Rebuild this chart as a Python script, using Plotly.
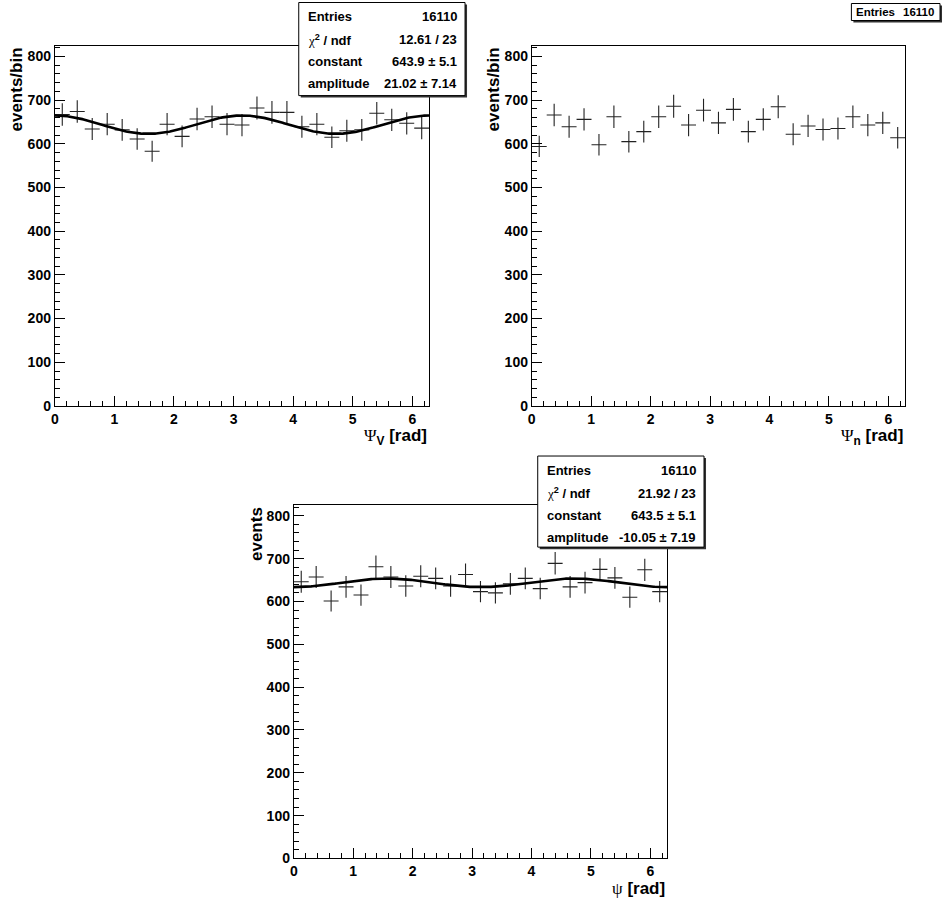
import numpy as np
import plotly.graph_objects as go

W, H = 944, 902

# ---------------- data ----------------
n_bins = 25
x_min, x_max = 0.0, 2 * np.pi
bin_width = (x_max - x_min) / n_bins
bin_centers = [x_min + (k + 0.5) * bin_width for k in range(n_bins)]

counts_psi_v = [667, 674, 634, 645, 632, 611, 583, 645, 617, 657, 662, 645, 643,
                682, 672, 672, 639, 645, 615, 630, 632, 670, 655, 647, 636]
counts_psi_n = [594, 666, 639, 656, 598, 662, 605, 628, 662, 686, 643, 677, 648,
                679, 628, 656, 685, 622, 641, 633, 635, 662, 643, 648, 614]
counts_psi = [646, 657, 601, 634, 615, 681, 657, 636, 659, 654, 636, 663, 623,
              620, 641, 654, 630, 689, 634, 644, 675, 655, 610, 674, 623]

fit_v_constant, fit_v_amplitude = 643.9, 21.02
fit_psi_constant, fit_psi_amplitude = 643.5, -10.05

CHI = "<span style='font-family:Liberation Serif;font-weight:normal'>χ</span><sup>2</sup> / ndf"
stats_v = [("Entries", "16110"), (CHI, "12.61 / 23"),
           ("constant", "643.9 ± 5.1"), ("amplitude", "21.02 ± 7.14")]
stats_n = [("Entries", "16110")]
stats_psi = [("Entries", "16110"), (CHI, "21.92 / 23"),
             ("constant", "643.5 ± 5.1"), ("amplitude", "-10.05 ± 7.19")]

y_range = [0, 825]

# ---------------- helpers (window pixels -> paper) ----------------
Y_FIX = 1 / 0.99   # small vertical correction measured on the rendered page

def px(x):
    return x / W

def py(y):
    return 1 - ((y + 0.5) * Y_FIX) / H

FONT = "Liberation Sans, Arial, sans-serif"
CROSS = "#222222"

fig = go.Figure()

panels = [
    (counts_psi_v, (fit_v_constant, fit_v_amplitude), "", (51, 427, 45, 405)),
    (counts_psi_n, None, "2", (530, 905, 45, 405)),
    (counts_psi, (fit_psi_constant, fit_psi_amplitude), "3", (291, 666, 504, 857)),
]

x_fit = np.linspace(x_min, x_max, 300)

for counts, fit, sfx, box in panels:
    xa = "x" + sfx
    ya = "y" + sfx
    fig.add_trace(go.Scatter(
        x=bin_centers, y=counts, mode="markers", xaxis=xa, yaxis=ya,
        marker=dict(size=2, color="rgba(0,0,0,0)"),
        error_x=dict(type="constant", value=bin_width / 2, width=0, thickness=1.1, color=CROSS),
        error_y=dict(type="data", array=[np.sqrt(c) for c in counts], width=0, thickness=1.1, color=CROSS),
        showlegend=False, hoverinfo="x+y"))
    if fit is not None:
        c, a = fit
        fig.add_trace(go.Scatter(
            x=x_fit, y=c + a * np.cos(2 * x_fit), mode="lines", xaxis=xa, yaxis=ya,
            line=dict(color="black", width=2.6), showlegend=False, hoverinfo="skip"))

axis_base = dict(
    showline=True, linecolor="black", linewidth=1, mirror=True,
    ticks="inside", ticklen=10, tickwidth=1, tickcolor="black",
    showgrid=False, zeroline=False,
    tickfont=dict(family=FONT, size=14, color="black", weight="bold"),
)

layout_axes = {}
for counts, fit, sfx, (x0, x1, top, bottom) in panels:
    layout_axes["xaxis" + sfx] = dict(
        axis_base, domain=[px(x0), px(x1)], range=[x_min, x_max], tick0=0, dtick=1,
        minor=dict(ticks="inside", ticklen=5, dtick=0.2, tick0=0, tickcolor="black", tickwidth=1, showgrid=False),
        anchor="y" + sfx)
    layout_axes["yaxis" + sfx] = dict(
        axis_base, domain=[py(bottom), py(top)], range=y_range, tick0=0, dtick=100,
        minor=dict(ticks="inside", ticklen=5, dtick=20, tick0=0, tickcolor="black", tickwidth=1, showgrid=False),
        anchor="x" + sfx)

fig.update_layout(**layout_axes)

annotations = []
shapes = []

PSI_SPAN = "<span style='font-family:Liberation Serif;font-weight:normal'>%s</span>"

title_font = dict(family=FONT, size=17, color="black", weight="bold")
x_titles = [(PSI_SPAN % "Ψ" + "<sub>V</sub> [rad]", 427, 436),
            (PSI_SPAN % "Ψ" + "<sub>n</sub> [rad]", 905, 436),
            (PSI_SPAN % "ψ" + " [rad]", 666, 887)]
for txt, xr, yc in x_titles:
    annotations.append(dict(text=txt, x=px(xr), y=py(yc), xref="paper", yref="paper",
                            xanchor="right", yanchor="middle", showarrow=False, font=title_font))
y_titles = [("events/bin", 13, 45), ("events/bin", 492, 45), ("events", 253, 504)]
for txt, xc, yt in y_titles:
    annotations.append(dict(text=txt, x=px(xc), y=py(yt), xref="paper", yref="paper",
                            xanchor="center", yanchor="top", textangle=-90, showarrow=False,
                            font=title_font))

stat_font = dict(family=FONT, size=13, color="black", weight="bold")

def stats_box(rows, x0, x1, top, bottom, row_ys, font, pad_l=7, pad_r=6):
    shapes.append(dict(type="rect", xref="paper", yref="paper",
                       x0=px(x0 + 2), x1=px(x1 + 2), y0=py(bottom + 2), y1=py(top + 2),
                       line=dict(width=0), fillcolor="#333333", layer="above"))
    shapes.append(dict(type="rect", xref="paper", yref="paper",
                       x0=px(x0), x1=px(x1), y0=py(bottom), y1=py(top),
                       line=dict(color="black", width=1), fillcolor="white", layer="above"))
    for (label, value), yc in zip(rows, row_ys):
        annotations.append(dict(text=label, x=px(x0 + pad_l), y=py(yc), xref="paper", yref="paper",
                                xanchor="left", yanchor="middle", showarrow=False, font=font))
        annotations.append(dict(text=value, x=px(x1 - pad_r), y=py(yc), xref="paper", yref="paper",
                                xanchor="right", yanchor="middle", showarrow=False, font=font))

stats_box(stats_v, 296, 463, 2, 95, [16, 39, 61, 83], stat_font)
stats_box(stats_n, 851, 940, 3, 20, [11.5], dict(stat_font, size=11.5), pad_l=3, pad_r=4)
stats_box(stats_psi, 536, 703, 455, 546, [469, 492, 514, 536], stat_font)

fig.update_layout(
    width=W, height=H,
    margin=dict(l=0, r=0, t=0, b=0),
    paper_bgcolor="white", plot_bgcolor="white",
    annotations=annotations, shapes=shapes,
    showlegend=False,
)

# remove the default page margin so that the figure fills the 944x902 window exactly
page_fix = ("document.documentElement.style.margin='0';document.body.style.margin='0';"
            "document.documentElement.style.overflow='hidden';document.body.style.overflow='hidden';")
fig.write_html("out.html", post_script=page_fix, config={"displayModeBar": False})
